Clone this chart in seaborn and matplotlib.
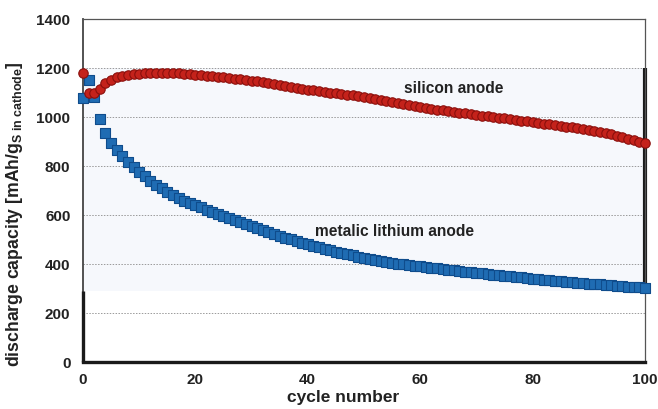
import numpy as np
import pandas as pd
import matplotlib
matplotlib.use("Agg")
import matplotlib.pyplot as plt
import seaborn as sns

cycles = list(range(0, 101))
silicon = [1181, 1100, 1098, 1116, 1138, 1153, 1162, 1168, 1172, 1175,
           1177, 1178, 1179, 1180, 1180, 1180, 1179, 1178, 1176, 1174,
           1172, 1170, 1168, 1166, 1164, 1162, 1160, 1157, 1155, 1152,
           1149, 1146, 1143, 1140, 1136, 1132, 1128, 1124, 1120, 1116,
           1112, 1109, 1106, 1103, 1100, 1097, 1094, 1091, 1088, 1085,
           1082, 1078, 1074, 1070, 1066, 1062, 1058, 1054, 1049, 1045,
           1040, 1036, 1033, 1030, 1027, 1024, 1021, 1018, 1015, 1012,
           1009, 1006, 1003, 1000, 997, 994, 991, 988, 985, 982,
           979, 976, 973, 970, 967, 964, 961, 958, 955, 951,
           947, 943, 939, 934, 929, 924, 918, 912, 906, 900,
           894]
lithium = [1076, 1151, 1082, 992, 935, 894, 866, 841, 818, 797,
           776, 758, 740, 724, 709, 695, 682, 670, 659, 649,
           640, 631, 622, 614, 606, 598, 589, 580, 571, 563,
           555, 547, 539, 531, 523, 515, 508, 501, 494, 487,
           480, 474, 468, 462, 456, 450, 445, 440, 435, 430,
           425, 421, 417, 413, 409, 405, 402, 399, 396, 393,
           390, 387, 384, 382, 379, 377, 374, 372, 369, 367,
           365, 362, 360, 357, 355, 352, 350, 347, 345, 342,
           340, 338, 336, 334, 332, 330, 328, 326, 324, 322,
           320, 318, 317, 315, 314, 312, 310, 308, 307, 305,
           303]
x_ticks = [0, 20, 40, 60, 80, 100]
y_ticks = [0, 200, 400, 600, 800, 1000, 1200, 1400]

sns.set_style("white")
plt.rcParams["font.family"] = ["Liberation Sans", "DejaVu Sans"]
plt.rcParams["font.weight"] = "bold"
plt.rcParams["mathtext.fontset"] = "custom"
plt.rcParams["mathtext.rm"] = "Liberation Sans:bold"
plt.rcParams["mathtext.it"] = "Liberation Sans:bold"
plt.rcParams["mathtext.bf"] = "Liberation Sans:bold"

df_si = pd.DataFrame({"cycle": cycles, "capacity": silicon})
df_li = pd.DataFrame({"cycle": cycles, "capacity": lithium})

fig = plt.figure(figsize=(6.58, 4.09), dpi=100)
ax = fig.add_axes([0.1261, 0.1149, 0.854, 0.8386])

ax.set_xlim(0, 100)
ax.set_ylim(0, 1400)

# shaded background band
ax.axhspan(288, 1200, xmin=0, xmax=1, color="#f6f8fc", zorder=0, lw=0)

for yv in [200, 400, 600, 800, 1000, 1200]:
    ax.axhline(yv, color="#9a9a9a", lw=0.7, ls=(0, (1.5, 1.5)), zorder=1)

sns.scatterplot(data=df_li, x="cycle", y="capacity", marker="s", s=42,
                color="#1f6cb3", edgecolor="#0f4c8c", linewidth=0.8,
                ax=ax, zorder=3, clip_on=False, legend=False)
sns.scatterplot(data=df_si, x="cycle", y="capacity", marker="o", s=46,
                color="#c4221b", edgecolor="#8a0f0c", linewidth=0.8,
                ax=ax, zorder=4, clip_on=False, legend=False)

# spines
for side in ["top", "right"]:
    ax.spines[side].set_color("#555555")
    ax.spines[side].set_linewidth(0.9)
ax.spines["left"].set_color("#444444")
ax.spines["left"].set_linewidth(1.3)
ax.spines["bottom"].set_color("#1a1a1a")
ax.spines["bottom"].set_linewidth(2.4)
ax.plot([0, 0], [0, 288], color="#1a1a1a", lw=2.4, clip_on=False, zorder=5,
        solid_capstyle="butt")
ax.plot([100, 100], [292, 1200], color="#1a1a1a", lw=3.0, clip_on=False, zorder=2,
        solid_capstyle="butt")

ax.set_xticks(x_ticks)
ax.set_yticks(y_ticks)
ax.set_xticklabels([str(v) for v in x_ticks], fontsize=11, fontweight="bold", color="#222222")
ax.set_yticklabels([str(v) for v in y_ticks], fontsize=11, fontweight="bold", color="#222222")
ax.tick_params(axis="x", direction="in", length=4, width=1, pad=8, color="#333333")
ax.tick_params(axis="y", direction="in", length=3, width=1, pad=9, color="#333333")

ax.set_xlabel("cycle number", fontsize=12.5, fontweight="bold", color="#222222")
ax.xaxis.set_label_coords(0.463, -0.081)
ax.set_ylabel(r"discharge capacity [mAh/g$_{\mathrm{S\ in\ cathode}}$]", fontsize=12.7,
              fontweight="bold", color="#222222")
ax.yaxis.set_label_coords(-0.104, 0.43)

ax.text(66, 1115, "silicon anode", ha="center", va="center", fontsize=11.2,
        fontweight="bold", color="#222222", zorder=6)
ax.text(55.5, 531, "metalic lithium anode", ha="center", va="center", fontsize=11.2,
        fontweight="bold", color="#222222", zorder=6)

fig.savefig("out.png", dpi=100)
